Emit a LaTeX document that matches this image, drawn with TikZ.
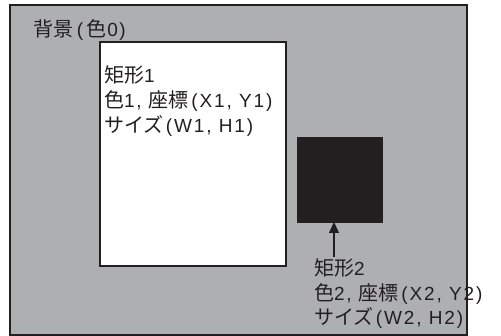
\documentclass[tikz,border=0pt]{standalone}
\usepackage{fontspec}
\setmainfont{Noto Sans CJK JP}
\newfontfamily\latinface[LetterSpace=10]{Liberation Sans}
\usetikzlibrary{arrows.meta}
\definecolor{bggray}{RGB}{174,175,177}
\definecolor{inkblack}{RGB}{35,31,32}
\newcommand{\lt}[1]{{\latinface\fontsize{19}{24}\selectfont #1}}
\begin{document}
\begin{tikzpicture}[x=1pt,y=-1pt,
  panel/.style={draw=inkblack,line width=1.6pt,inner sep=0pt,outer sep=0pt,anchor=north west},
  lbl/.style={anchor=base west,inner sep=0pt,outer sep=0pt,text=inkblack,font=\fontsize{20}{24}\selectfont},
  pointer/.style={draw=inkblack,line width=1.3pt,-{Triangle[width=10pt,length=11pt]}}]
\useasboundingbox (0,0) rectangle (501,336);
\node[panel,fill=bggray,minimum width=457pt,minimum height=330pt] (bg) at (10,5) {};
\node[panel,fill=white,line width=1.4pt,minimum width=186pt,minimum height=224pt] (r1) at (100,42) {};
\node[panel,fill=inkblack,line width=0.8pt,minimum width=85pt,minimum height=85pt] (r2) at (297,137) {};
\coordinate (a2) at (334,257);
\draw[pointer] (a2) -- (a2 |- r2.south);
\node[lbl] (t0) at (34,36.5) {背景\kern3pt\lt{(}\kern3pt色\kern1pt\lt{0}\kern1.5pt\lt{)}};
\node[lbl] (t11) at (104,83) {矩形\lt{1}};
\node[lbl] (t12) at (104,108) {色\lt{1, }座標\kern2.5pt\lt{(X1, Y1)}};
\node[lbl] (t13) at (104,133) {サイズ\kern2.5pt\lt{(W1, H1)}};
\node[lbl] (t21) at (314,276) {矩形\lt{2}};
\node[lbl] (t22) at (314,300.5) {色\lt{2, }座標\kern2.5pt\lt{(X2, Y2)}};
\node[lbl] (t23) at (314,325) {サイズ\kern2.5pt\lt{(W2, H2)}};
\end{tikzpicture}
\end{document}
